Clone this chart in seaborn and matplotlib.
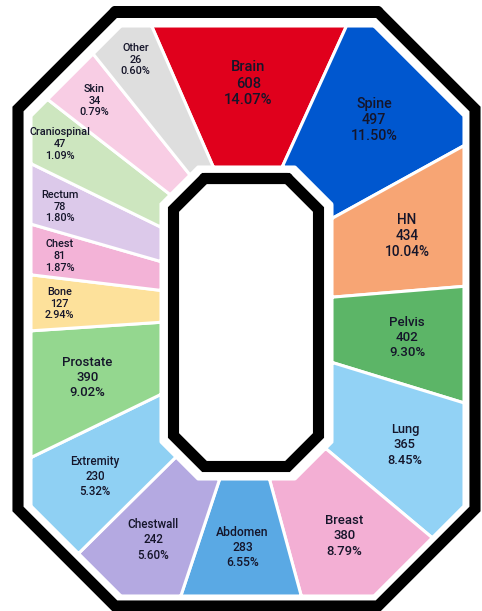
import numpy as np
import pandas as pd
import seaborn as sns
import matplotlib.pyplot as plt

# ---------------------------------------------------------------
# dados (sentido horário a partir do topo)
# ---------------------------------------------------------------
sites = ["Brain", "Spine", "HN", "Pelvis", "Lung", "Breast", "Abdomen",
         "Chestwall", "Extremity", "Prostate", "Bone", "Chest", "Rectum",
         "Craniospinal", "Skin", "Other"]
counts = [608, 497, 434, 402, 365, 380, 283, 242, 230, 390, 127, 81, 78,
          47, 34, 26]
pcts = [14.07, 11.50, 10.04, 9.30, 8.45, 8.79, 6.55, 5.60, 5.32, 9.02,
        2.94, 1.87, 1.80, 1.09, 0.79, 0.60]
colors = ["#e0001c", "#0057cf", "#f7a574", "#5cb567", "#92d2f5", "#f3afd4",
          "#5aa9e4", "#b4a9e1", "#8fd0f3", "#94d78f", "#fde19b", "#f3b3d7",
          "#dcc9ea", "#cde6bf", "#f8cde4", "#dedede"]

df = pd.DataFrame({"site": sites, "n": counts, "pct": pcts, "color": colors})

# escala das fatias: potência suavizada com mínimo para as categorias pequenas
w = np.maximum(df["pct"].values, 2.2) ** 0.6
edges = -18.5 + 360 * np.concatenate([[0], np.cumsum(w)]) / w.sum()


def octagon(cx, cy, hw, hh, c):
    return np.array([
        (cx - hw + c, cy - hh), (cx + hw - c, cy - hh), (cx + hw, cy - hh + c),
        (cx + hw, cy + hh - c), (cx + hw - c, cy + hh), (cx - hw + c, cy + hh),
        (cx - hw, cy + hh - c), (cx - hw, cy - hh + c)])


def hit(poly, o, d):
    # interseção do raio o + t*d com o polígono
    best = None
    n = len(poly)
    for k in range(n):
        a, b = poly[k], poly[(k + 1) % n]
        e = b - a
        m = np.array([[d[0], -e[0]], [d[1], -e[1]]])
        if abs(np.linalg.det(m)) < 1e-9:
            continue
        t, s = np.linalg.solve(m, a - o)
        if t > 0 and -1e-9 <= s <= 1 + 1e-9:
            if best is None or t < best:
                best = t
    return o + best * d


center = np.array([247.0, 311.0])
outer = octagon(247.5, 311, 216.5, 285, 90)
inner = octagon(246.5, 323, 85.5, 156, 37)
squeeze = 0.7


def ring_point(poly, deg, a=1.0):
    r = np.radians(deg)
    return hit(poly, center, np.array([a * np.sin(r), -np.cos(r)]))


def centroid(p):
    x, y = p[:, 0], p[:, 1]
    x1, y1 = np.roll(x, -1), np.roll(y, -1)
    cr = x * y1 - x1 * y
    A = cr.sum() / 2
    return np.array([((x + x1) * cr).sum() / (6 * A), ((y + y1) * cr).sum() / (6 * A)])


sns.set_theme(style="white")
plt.rcParams["font.family"] = ["Roboto", "DejaVu Sans"]

fig = plt.figure(figsize=(4.82, 6.11), dpi=100)
ax = fig.add_axes([0, 0, 1, 1])
ax.set_xlim(0, 482)
ax.set_ylim(611, 0)
ax.axis("off")

for i, row in df.iterrows():
    angs = np.linspace(edges[i], edges[i + 1], 80)
    po = np.array([ring_point(outer, t) for t in angs])
    pi = np.array([ring_point(inner, t, squeeze) for t in angs[::-1]])
    poly = np.vstack([po, pi])
    ax.fill(poly[:, 0], poly[:, 1], color=row["color"], ec="white", lw=2.2,
            joinstyle="miter")
    mid = (edges[i] + edges[i + 1]) / 2
    p_in = ring_point(inner, mid, squeeze)
    p_out = ring_point(outer, mid)
    if row["pct"] >= 3:
        # centro da fatia, puxado um pouco para fora
        cx, cy = 0.7 * centroid(poly) + 0.3 * (p_in + 0.62 * (p_out - p_in))
    else:
        # fatias estreitas: rótulo mais perto da borda externa
        cx, cy = p_in + 0.78 * (p_out - p_in)
    fs = np.clip(6.6 + 0.32 * row["pct"], 7.8, 10.6)
    ax.text(cx, cy, f"{row['site']}\n{row['n']}\n{row['pct']:.2f}%",
            ha="center", va="center", fontsize=fs, color="#15152a",
            linespacing=1.22, fontweight="medium")

# contornos pretos
ob = octagon(246.5, 309, 228.5, 297, 97)
ib = octagon(246.0, 322.5, 72.5, 144, 31)
ax.fill(ib[:, 0], ib[:, 1], color="white", zorder=3)
for b in (ob, ib):
    bb = np.vstack([b, b[:2]])
    ax.plot(bb[:, 0], bb[:, 1], color="black", lw=8, solid_joinstyle="miter",
            zorder=4)

fig.savefig("out.png", dpi=100, facecolor="white")
